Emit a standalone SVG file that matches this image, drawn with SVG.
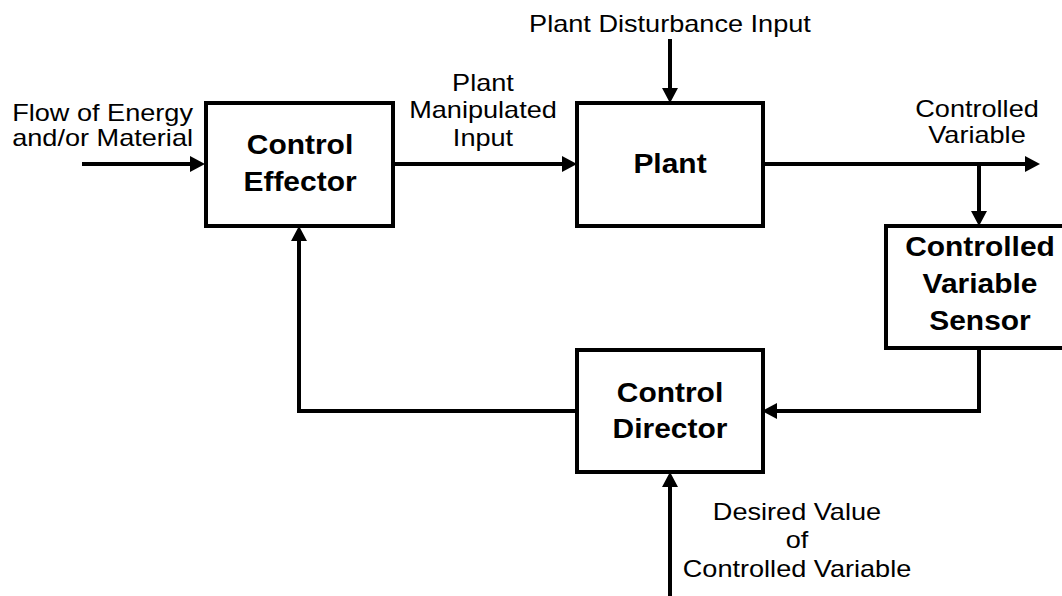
<svg xmlns="http://www.w3.org/2000/svg" width="1062" height="596" viewBox="0 0 1062 596">
<style>
.box{fill:#fff;stroke:#000;stroke-width:4}
.wire{fill:none;stroke:#000;stroke-width:4}
.lbl{font-family:"Liberation Sans",Arial,sans-serif;font-size:24px;fill:#000}
.bold{font-family:"Liberation Sans",Arial,sans-serif;font-size:28px;font-weight:bold;fill:#000}
</style>
<defs>
<marker id="ah" markerUnits="userSpaceOnUse" markerWidth="16" markerHeight="16" refX="3" refY="8" orient="auto" viewBox="0 0 16 16">
<path d="M0,0 L15,8 L0,16 z" fill="#000"/>
</marker>
</defs>
<rect width="1062" height="596" fill="#fff"/>
<g id="connectors">
<path class="wire" d="M82,164 H193" marker-end="url(#ah)"/>
<path class="wire" d="M393,164 H565" marker-end="url(#ah)"/>
<path class="wire" d="M670,39 V91" marker-end="url(#ah)"/>
<path class="wire" d="M763,164 H1028" marker-end="url(#ah)"/>
<path class="wire" d="M979,164 V214" marker-end="url(#ah)"/>
<path class="wire" d="M979,348 V411 H774" marker-end="url(#ah)"/>
<path class="wire" d="M577,411 H299 V238" marker-end="url(#ah)"/>
<path class="wire" d="M670,596 V484" marker-end="url(#ah)"/>
</g>
<g id="effector">
<rect class="box" x="206" y="103" width="187" height="123"/>
<text class="bold" text-anchor="middle" transform="translate(300 0) scale(1.07 1)"><tspan x="0" y="154">Control</tspan><tspan x="0" y="191">Effector</tspan></text>
</g>
<g id="plant">
<rect class="box" x="577" y="103" width="186" height="123"/>
<text class="bold" text-anchor="middle" transform="translate(670 0) scale(1.07 1)"><tspan x="0" y="173">Plant</tspan></text>
</g>
<g id="sensor">
<rect class="box" x="886" y="226" width="180" height="122"/>
<text class="bold" text-anchor="middle" transform="translate(980 0) scale(1.07 1)"><tspan x="0" y="256">Controlled</tspan><tspan x="0" y="293">Variable</tspan><tspan x="0" y="330">Sensor</tspan></text>
</g>
<g id="director">
<rect class="box" x="577" y="350" width="186" height="122"/>
<text class="bold" text-anchor="middle" transform="translate(670 0) scale(1.07 1)"><tspan x="0" y="402">Control</tspan><tspan x="0" y="438">Director</tspan></text>
</g>
<g id="labels">
<text class="lbl" text-anchor="end" transform="translate(193 0) scale(1.13 1)"><tspan x="0" y="121">Flow of Energy</tspan><tspan x="0" y="146">and/or Material</tspan></text>
<text class="lbl" text-anchor="middle" transform="translate(670 0) scale(1.13 1)"><tspan x="0" y="32">Plant Disturbance Input</tspan></text>
<text class="lbl" text-anchor="middle" transform="translate(483 0) scale(1.13 1)"><tspan x="0" y="91">Plant</tspan><tspan x="0" y="118">Manipulated</tspan><tspan x="0" y="146">Input</tspan></text>
<text class="lbl" text-anchor="middle" transform="translate(977 0) scale(1.13 1)"><tspan x="0" y="117">Controlled</tspan><tspan x="0" y="143">Variable</tspan></text>
<text class="lbl" text-anchor="middle" transform="translate(797 0) scale(1.13 1)"><tspan x="0" y="520">Desired Value</tspan><tspan x="0" y="548">of</tspan><tspan x="0" y="577">Controlled Variable</tspan></text>
</g>
</svg>
